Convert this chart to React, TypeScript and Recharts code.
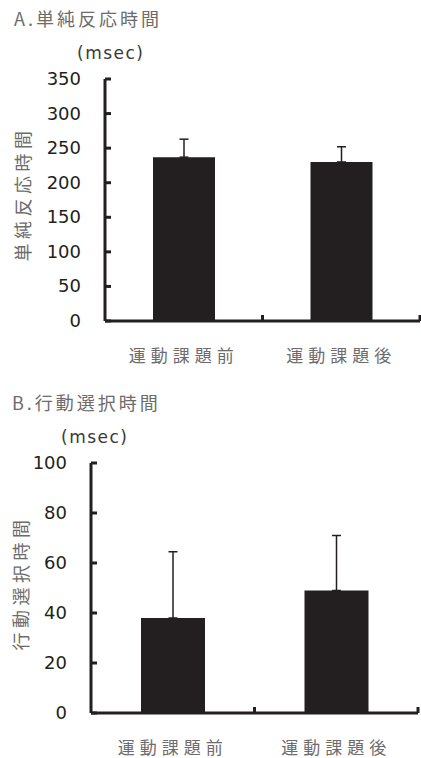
import React from 'react';
import { BarChart, Bar, XAxis, YAxis, ErrorBar } from 'recharts';

const categories = ['運動課題前', '運動課題後'];
const simpleMeans = [237, 230];
const simpleErrors = [26, 22];
const choiceMeans = [38, 49];
const choiceErrors = [26.5, 22];
const simpleTicks = [0, 50, 100, 150, 200, 250, 300, 350];
const choiceTicks = [0, 20, 40, 60, 80, 100];

const INK = '#231f20';
const GREY = '#6d6b6b';

const simpleData = categories.map((name, i) => ({ name, value: simpleMeans[i], err: [0, simpleErrors[i]] }));
const choiceData = categories.map((name, i) => ({ name, value: choiceMeans[i], err: [0, choiceErrors[i]] }));

const YTick = (props: any) => {
  const { x, y, payload } = props;
  return (
    <g>
      <line x1={x} y1={y} x2={x + 6} y2={y} stroke={INK} strokeWidth={3} />
      <text x={x - 24} y={y} dy={6} textAnchor="end" fill={INK} fontSize={18} fontFamily="DejaVu Sans">
        {payload.value}
      </text>
    </g>
  );
};

const makeXTick = (halfBand: number) => (props: any) => {
  const { x, y, payload } = props;
  return (
    <g>
      <line x1={x + halfBand} y1={y} x2={x + halfBand} y2={y - 6} stroke={INK} strokeWidth={3} />
      <text x={x} y={y} dy={41} textAnchor="middle" fill={GREY} fontSize={17} letterSpacing={5} fontFamily="'Noto Sans CJK JP'">
        {payload.value}
      </text>
    </g>
  );
};

const titleStyle: React.CSSProperties = {
  position: 'absolute',
  fontFamily: "'Noto Sans CJK JP'",
  fontSize: 18,
  letterSpacing: 3,
  color: GREY,
  lineHeight: '24px',
  whiteSpace: 'nowrap',
};

const unitStyle: React.CSSProperties = {
  position: 'absolute',
  fontFamily: 'DejaVu Sans',
  fontSize: 17,
  letterSpacing: 1.5,
  color: '#3a3838',
  lineHeight: '22px',
};

const vLabelStyle: React.CSSProperties = {
  position: 'absolute',
  fontFamily: "'Noto Sans CJK JP'",
  fontSize: 18,
  letterSpacing: 4.5,
  color: GREY,
  lineHeight: '22px',
  whiteSpace: 'nowrap',
  transform: 'translate(-50%, -50%) rotate(-90deg)',
};

const App: React.FC = () => {
  return (
    <div style={{ position: 'absolute', left: 0, top: 0, width: 421, height: 758, background: '#fff', overflow: 'hidden' }}>
      <div style={{ ...titleStyle, left: 14, top: 6 }}>A.単純反応時間</div>
      <div style={{ ...unitStyle, left: 77, top: 42 }}>(msec)</div>
      <div style={{ ...vLabelStyle, left: 22, top: 194 }}>単純反応時間</div>
      <div style={{ position: 'absolute', left: 0, top: 0 }}>
        <BarChart width={421} height={380} data={simpleData} margin={{ top: 79, right: 1, left: 0, bottom: 19 }} barCategoryGap={0}>
          <XAxis dataKey="name" height={40} tickSize={0} tickMargin={0} axisLine={{ stroke: INK, strokeWidth: 3 }} tickLine={false} tick={makeXTick(78.75)} interval={0} />
          <YAxis width={105} domain={[0, 350]} ticks={simpleTicks} tickSize={0} tickMargin={0} axisLine={{ stroke: INK, strokeWidth: 3 }} tickLine={false} tick={<YTick />} interval={0} />
          <Bar dataKey="value" fill={INK} barSize={62} isAnimationActive={false}>
            <ErrorBar dataKey="err" width={4.5} stroke={INK} strokeWidth={1.5} direction="y" />
          </Bar>
        </BarChart>
      </div>

      <div style={{ ...titleStyle, left: 12, top: 390 }}>B.行動選択時間</div>
      <div style={{ ...unitStyle, left: 61, top: 426 }}>(msec)</div>
      <div style={{ ...vLabelStyle, left: 20, top: 583 }}>行動選択時間</div>
      <div style={{ position: 'absolute', left: 0, top: 380 }}>
        <BarChart width={421} height={378} data={choiceData} margin={{ top: 83, right: 3, left: 0, bottom: 5 }} barCategoryGap={0}>
          <XAxis dataKey="name" height={40} tickSize={0} tickMargin={0} axisLine={{ stroke: INK, strokeWidth: 3 }} tickLine={false} tick={makeXTick(81.75)} interval={0} />
          <YAxis width={91} domain={[0, 100]} ticks={choiceTicks} tickSize={0} tickMargin={0} axisLine={{ stroke: INK, strokeWidth: 3 }} tickLine={false} tick={<YTick />} interval={0} />
          <Bar dataKey="value" fill={INK} barSize={64} isAnimationActive={false}>
            <ErrorBar dataKey="err" width={4.5} stroke={INK} strokeWidth={1.5} direction="y" />
          </Bar>
        </BarChart>
      </div>
    </div>
  );
};

export default App;
